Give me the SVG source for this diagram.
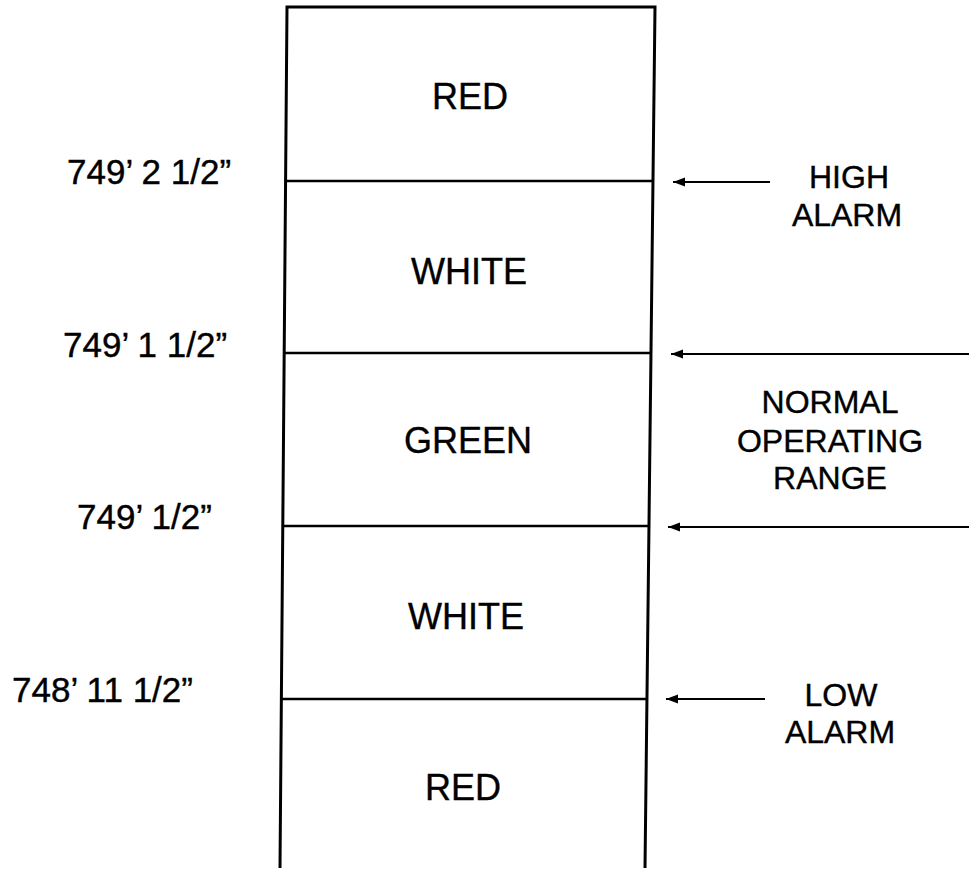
<svg xmlns="http://www.w3.org/2000/svg" width="969" height="870" viewBox="0 0 969 870">
<style>
  .edge{fill:none;stroke:#000;stroke-width:3}
  .div{stroke:#000;stroke-width:2.6}
  .arr{stroke:#000;stroke-width:2.2}
  text{font-family:"Liberation Sans",Arial,sans-serif;fill:#000;stroke:#000;stroke-width:0.4}
  .band{font-size:36px;text-anchor:middle}
  .lvl{font-size:35px}
  .note{font-size:32px;text-anchor:middle}
</style>
<defs>
  <marker id="ah" markerUnits="userSpaceOnUse" markerWidth="14" markerHeight="10" refX="12" refY="5" orient="auto" viewBox="0 0 14 10">
    <path d="M0,0.5 L12,5 L0,9.5 Z" fill="#000"/>
  </marker>
</defs>
<rect width="969" height="870" fill="#fff"/>
<g id="gauge">
  <path class="edge" d="M280,868 L287,7 L655,7 L645,868"/>
  <line class="div" x1="285.6" y1="181" x2="653" y2="181"/>
  <line class="div" x1="284.2" y1="353" x2="651" y2="353"/>
  <line class="div" x1="282.8" y1="526" x2="649" y2="526"/>
  <line class="div" x1="281.4" y1="699" x2="647" y2="699"/>
</g>
<g id="band-red-top"><text class="band" x="470" y="109">RED</text></g>
<g id="band-white-top"><text class="band" x="469" y="284">WHITE</text></g>
<g id="band-green"><text class="band" x="468" y="453">GREEN</text></g>
<g id="band-white-bottom"><text class="band" x="466" y="629">WHITE</text></g>
<g id="band-red-bottom"><text class="band" x="463" y="800">RED</text></g>
<g id="levels">
  <text class="lvl" x="67" y="184">749’ 2 1/2”</text>
  <text class="lvl" x="63" y="357">749’ 1 1/2”</text>
  <text class="lvl" x="77" y="529">749’ 1/2”</text>
  <text class="lvl" x="12" y="702">748’ 11 1/2”</text>
</g>
<g id="connectors">
  <line class="arr" x1="770" y1="182" x2="673" y2="182" marker-end="url(#ah)"/>
  <line class="arr" x1="969" y1="354" x2="671" y2="354" marker-end="url(#ah)"/>
  <line class="arr" x1="969" y1="527" x2="668" y2="527" marker-end="url(#ah)"/>
  <line class="arr" x1="765" y1="699" x2="666" y2="699" marker-end="url(#ah)"/>
</g>
<g id="high-alarm">
  <text class="note" x="849" y="188">HIGH</text>
  <text class="note" x="847" y="226">ALARM</text>
</g>
<g id="normal-range">
  <text class="note" x="830" y="413">NORMAL</text>
  <text class="note" x="830" y="452">OPERATING</text>
  <text class="note" x="830" y="489">RANGE</text>
</g>
<g id="low-alarm">
  <text class="note" x="841" y="706">LOW</text>
  <text class="note" x="840" y="743">ALARM</text>
</g>
</svg>
